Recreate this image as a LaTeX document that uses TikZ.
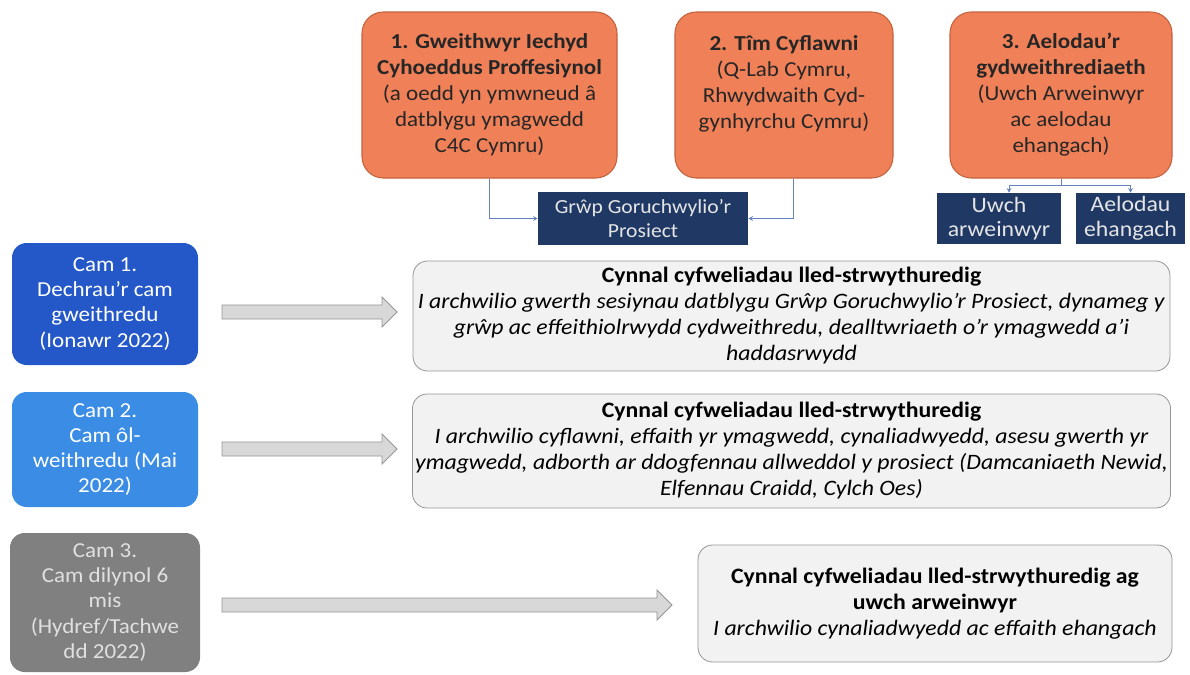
\documentclass[tikz,border=0pt]{standalone}
\usepackage{fontspec}
\setmainfont{Carlito}[FakeStretch=1.08]
\usetikzlibrary{arrows.meta,calc}
\newcommand\px{0.75pt}
\definecolor{orangefill}{RGB}{240,128,88}
\definecolor{orangeline}{RGB}{196,98,62}
\definecolor{navy}{RGB}{31,56,100}
\definecolor{camone}{RGB}{36,88,200}
\definecolor{camtwo}{RGB}{58,140,228}
\definecolor{camthree}{RGB}{128,128,128}
\definecolor{notefill}{RGB}{242,242,242}
\definecolor{noteline}{RGB}{150,150,150}
\definecolor{arrowfill}{RGB}{216,216,216}
\definecolor{linkcol}{RGB}{100,130,190}
\begin{document}
\begin{tikzpicture}[x=\px,y=-\px,
  orangebox/.style={draw=orangeline, fill=orangefill, rounded corners=16pt,
    align=center, text=black!85, minimum height=166*\px, inner sep=2pt,
    line width=0.8pt, font=\fontsize{16}{19.5}\selectfont},
  navybox/.style={fill=navy, text=white!90!black, align=center, inner sep=2pt,
    font=\fontsize{16.5}{18.5}\selectfont},
  cambox/.style={rounded corners=11pt, align=center, inner sep=2pt,
    text=white, font=\fontsize{16}{18.8}\selectfont},
  notebox/.style={draw=noteline, fill=notefill, rounded corners=11pt,
    align=center, inner sep=2pt, line width=0.6pt,
    font=\fontsize{16.5}{19.5}\selectfont},
  link/.style={draw=linkcol, line width=0.6pt, -{Stealth[length=3.5pt,width=3.5pt]}},
  blockarrow/.style={draw=noteline, fill=arrowfill, line width=0.6pt}]

  % Page and background
  \useasboundingbox[fill=white] (0,0) rectangle (1190,675);

  % The three groups at the top
  \node[orangebox, minimum width=255*\px] (org1) at (489.5,95)
    {\bfseries 1. Gweithwyr Iechyd\\ \bfseries Cyhoeddus Proffesiynol\\
     (a oedd yn ymwneud â\\ datblygu ymagwedd\\ C4C Cymru)};
  \node[orangebox, minimum width=218*\px] (org2) at (784,95)
    {\bfseries 2. Tîm Cyflawni\\ (Q-Lab Cymru,\\ Rhwydwaith Cyd-\\
     gynhyrchu Cymru)\\ \mbox{}};
  \node[orangebox, minimum width=222*\px] (org3) at (1061,95)
    {\bfseries 3. Aelodau’r\\ \bfseries gydweithrediaeth\\
     (Uwch Arweinwyr\\ ac aelodau\\ ehangach)};

  \node[navybox, font=\fontsize{15}{18.5}\selectfont, minimum width=210*\px,
    minimum height=53*\px] (grwp) at (643,218.5)
    {Grŵp Goruchwylio’r\\ Prosiect};
  \node[navybox, minimum width=124*\px, minimum height=51*\px] (uwch) at (999,218.5)
    {Uwch\\ arweinwyr};
  \node[navybox, minimum width=109*\px, minimum height=51*\px] (aelod) at (1130.5,218.5)
    {Aelodau\\ ehangach};

  % Links to the oversight group and the split below group 3
  \draw[link] (org1.south) |- (grwp.west);
  \draw[link] ([xshift=9*\px]org2.south) |- (grwp.east);
  \draw[draw=linkcol, line width=0.6pt] (org3.south) -- ++(0,7) coordinate (fork);
  \draw[link] (fork) -| ([xshift=10*\px]uwch.north);
  \draw[link] (fork) -| (aelod.north);

  % The three stages
  \node[cambox, fill=camone, minimum width=186*\px, minimum height=122*\px] (cam1) at (105,304)
    {Cam 1.\\ Dechrau’r cam\\ gweithredu\\ (Ionawr 2022)};
  \node[cambox, fill=camtwo, minimum width=186*\px, minimum height=115*\px] (cam2) at (105,449.5)
    {Cam 2.\\ Cam ôl-\\ weithredu (Mai\\ 2022)};
  \node[cambox, fill=camthree, text=white!88!black, minimum width=190*\px,
    minimum height=139*\px] (cam3) at (105,602.5)
    {Cam 3.\\ Cam dilynol 6\\ mis\\ (Hydref/Tachwe\\ dd 2022)};

  % Interview boxes
  \node[notebox, minimum width=757*\px, minimum height=110*\px] (int1) at (791.5,316)
    {\textbf{Cynnal cyfweliadau lled-strwythuredig}\\
     \textit{I archwilio gwerth sesiynau datblygu Grŵp Goruchwylio’r Prosiect, dynameg y}\\
     \textit{grŵp ac effeithiolrwydd cydweithredu, dealltwriaeth o’r ymagwedd a’i}\\
     \textit{haddasrwydd}};
  \node[notebox, minimum width=753*\px, minimum height=114*\px] (int2) at (791.5,451)
    {\textbf{Cynnal cyfweliadau lled-strwythuredig}\\
     \textit{I archwilio cyflawni, effaith yr ymagwedd, cynaliadwyedd, asesu gwerth yr}\\
     \textit{ymagwedd, adborth ar ddogfennau allweddol y prosiect (Damcaniaeth Newid,}\\
     \textit{Elfennau Craidd, Cylch Oes)}};
  \node[notebox, minimum width=474*\px, minimum height=117*\px] (int3) at (935,603.5)
    {\textbf{Cynnal cyfweliadau lled-strwythuredig ag}\\ \textbf{uwch arweinwyr}\\
     \textit{I archwilio cynaliadwyedd ac effaith ehangach}};

  % Block arrows from each stage
  \foreach \n/\xs/\xe/\yy in {1/222/397/312, 2/222/397/449, 3/222/672/605} {
    \coordinate (bs\n) at (\xs,\yy);
    \coordinate (be\n) at (\xe,\yy);
    \draw[blockarrow] ($(bs\n)+(0,-7)$) -- ($(be\n)+(-15,-7)$) -- ($(be\n)+(-15,-15)$)
      -- (be\n) -- ($(be\n)+(-15,15)$) -- ($(be\n)+(-15,7)$) -- ($(bs\n)+(0,7)$) -- cycle;
  }
\end{tikzpicture}
\end{document}
